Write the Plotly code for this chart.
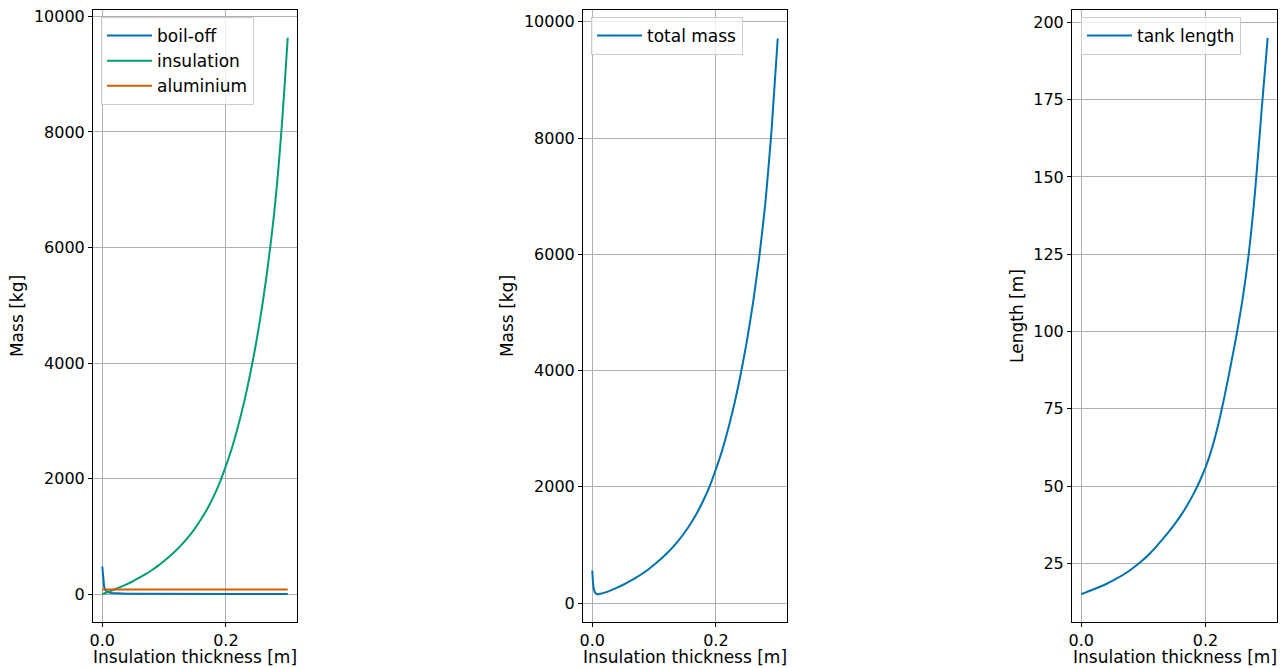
import plotly.graph_objects as go

# Insulation thickness [m]
thickness = [0.0, 0.001, 0.002, 0.003, 0.005, 0.0075, 0.01, 0.015, 0.02, 0.03, 0.04, 0.05,
             0.06, 0.07, 0.08, 0.09, 0.10, 0.11, 0.12, 0.13, 0.14, 0.15, 0.16, 0.17,
             0.18, 0.19, 0.20, 0.21, 0.22, 0.23, 0.24, 0.25, 0.26, 0.27, 0.28, 0.29, 0.30]

boil_off = [480, 300, 190, 130, 70, 45, 33, 22, 17, 12, 9, 7,
            6, 5, 5, 4, 4, 4, 3.5, 3.5, 3, 3, 3, 2.5,
            2.5, 2.5, 2, 2, 2, 2, 2, 2, 1.5, 1.5, 1.5, 1.5, 1.5]

insulation = [0, 4, 8, 12, 20, 30, 40, 61, 82, 126, 175, 228,
              285, 347, 415, 490, 575, 665, 765, 875, 1000, 1140, 1300, 1480,
              1690, 1930, 2220, 2540, 2920, 3350, 3850, 4420, 5080, 5860, 6800, 8050, 9630]

aluminium = [81] * len(thickness)

total_mass = [561, 385, 279, 223, 171, 156, 154, 164, 180, 219, 265, 316,
              372, 433, 501, 575, 660, 750, 850, 960, 1084, 1224, 1384, 1564,
              1774, 2014, 2303, 2623, 3003, 3433, 3933, 4503, 5163, 5943, 6883, 8133, 9713]

tank_length = [15.0, 15.1, 15.2, 15.2, 15.4, 15.6, 15.8, 16.2, 16.6, 17.4, 18.3, 19.3,
               20.4, 21.6, 23.0, 24.5, 26.2, 28.1, 30.2, 32.6, 35.0, 37.6, 40.4, 43.6,
               47.2, 51.3, 56.0, 62.0, 69.5, 78.5, 88.5, 99.0, 111.0, 126.0, 146.0, 171.0, 195.0]

x_title = "Insulation thickness [m]"

BLUE = "#0072B2"
GREEN = "#009E73"
ORANGE = "#D55E00"
FONT = "DejaVu Sans"

fig = go.Figure()
fig.add_trace(go.Scatter(x=thickness, y=boil_off, mode="lines", name="boil-off",
                         line=dict(color=BLUE, width=2), xaxis="x", yaxis="y", legend="legend"))
fig.add_trace(go.Scatter(x=thickness, y=insulation, mode="lines", name="insulation",
                         line=dict(color=GREEN, width=2, shape="spline", smoothing=0.8),
                         xaxis="x", yaxis="y", legend="legend"))
fig.add_trace(go.Scatter(x=thickness, y=aluminium, mode="lines", name="aluminium",
                         line=dict(color=ORANGE, width=2), xaxis="x", yaxis="y", legend="legend"))
fig.add_trace(go.Scatter(x=thickness, y=total_mass, mode="lines", name="total mass",
                         line=dict(color=BLUE, width=2, shape="spline", smoothing=0.5),
                         xaxis="x2", yaxis="y2", legend="legend2"))
fig.add_trace(go.Scatter(x=thickness, y=tank_length, mode="lines", name="tank length",
                         line=dict(color=BLUE, width=2, shape="spline", smoothing=0.8),
                         xaxis="x3", yaxis="y3", legend="legend3"))

W, H = 1288, 668
doms = [(93, 297), (583, 787), (1072, 1277)]
ydom = [1 - 622 / H, 1 - 10 / H]

axis_common = dict(showline=True, linecolor="black", linewidth=1, mirror=True,
                   ticks="outside", ticklen=4, tickcolor="black", automargin=False,
                   showgrid=True, gridcolor="#b0b0b0", gridwidth=1, zeroline=False,
                   tickfont=dict(family=FONT, size=16, color="black"))

layout = dict(
    width=W, height=H, margin=dict(l=0, r=0, t=0, b=0, autoexpand=False),
    paper_bgcolor="white", plot_bgcolor="white",
    font=dict(family=FONT, size=16, color="black"),
)

annotations = []
for i, (a, b) in enumerate(doms):
    sx = "" if i == 0 else str(i + 1)
    layout["xaxis" + sx] = dict(domain=[a / W, b / W], anchor="y" + sx, range=[-0.015, 0.315],
                                tickvals=[0, 0.2], ticktext=["0.0", "0.2"], **axis_common)
    annotations.append(dict(text=x_title, xref="paper", yref="paper",
                            x=(a + b) / 2 / W, y=0, xanchor="center", yanchor="bottom",
                            showarrow=False, borderpad=0,
                            font=dict(family=FONT, size=17, color="black")))

ytf = dict(family=FONT, size=17, color="black")
layout["yaxis"] = dict(domain=ydom, anchor="x", range=[-481, 10111], tickformat="d",
                       tickvals=[0, 2000, 4000, 6000, 8000, 10000],
                       title=dict(text="Mass [kg]", font=ytf, standoff=5), **axis_common)
layout["yaxis2"] = dict(domain=ydom, anchor="x2", range=[-325, 10204], tickformat="d",
                        tickvals=[0, 2000, 4000, 6000, 8000, 10000],
                        title=dict(text="Mass [kg]", font=ytf, standoff=5), **axis_common)
layout["yaxis3"] = dict(domain=ydom, anchor="x3", range=[6, 204], tickformat="d",
                        tickvals=[25, 50, 75, 100, 125, 150, 175, 200],
                        title=dict(text="Length [m]", font=ytf, standoff=5), **axis_common)

leg_common = dict(bgcolor="rgba(255,255,255,0.8)", bordercolor="#cccccc", borderwidth=1,
                  font=dict(family=FONT, size=17, color="black"), xanchor="left", yanchor="top",
                  itemwidth=45)
layout["legend"] = dict(x=101 / W, y=1 - 17 / H, **leg_common)
layout["legend2"] = dict(x=591 / W, y=1 - 17 / H, **leg_common)
layout["legend3"] = dict(x=1081 / W, y=1 - 17 / H, **leg_common)
layout["annotations"] = annotations

fig.update_layout(**layout)
fig.write_html("out.html", config={"displayModeBar": False},
               post_script="document.body.style.margin='0';document.body.style.overflow='hidden';")
